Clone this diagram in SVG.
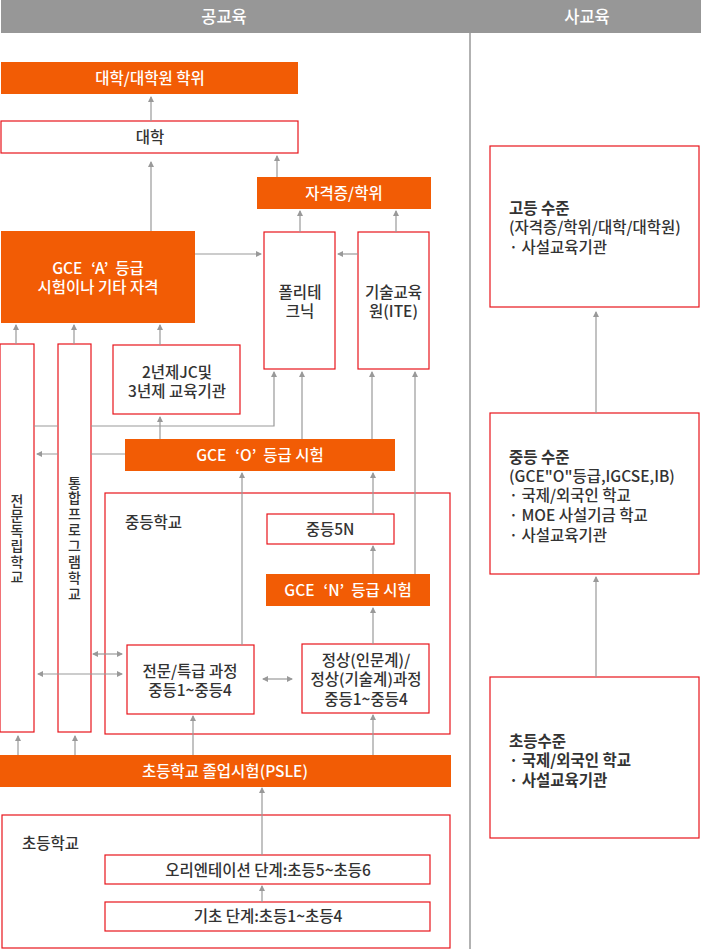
<svg xmlns="http://www.w3.org/2000/svg" width="721" height="949" viewBox="0 0 721 949">
<defs>
<style>
text{font-family:"Noto Sans CJK KR","Noto Sans",sans-serif;font-size:15.5px;font-weight:500;fill:#333;}
.w{fill:#fff;}
.c{text-anchor:middle;}
.b{font-weight:bold;}
.h{font-size:16.5px;}
.v{font-size:14px;text-anchor:middle;}
.or{fill:#f25c05;stroke:none;}
.bx{fill:#fff;stroke:#e8141b;stroke-width:1.2;}
.ct{fill:none;stroke:#e8141b;stroke-width:1.2;}
.ln{fill:none;stroke:#999;stroke-width:1.2;marker-end:url(#ah);}
.dl{fill:none;stroke:#999;stroke-width:1.2;marker-end:url(#ah);marker-start:url(#as);}
</style>
<marker id="ah" markerUnits="userSpaceOnUse" markerWidth="7" markerHeight="6" refX="5" refY="3" orient="auto"><path d="M0,0 L6,3 L0,6 z" fill="#999"/></marker>
<marker id="as" markerUnits="userSpaceOnUse" markerWidth="7" markerHeight="6" refX="1" refY="3" orient="auto"><path d="M6,0 L0,3 L6,6 z" fill="#999"/></marker>
</defs>
<rect x="0" width="721" height="949" fill="#fff"/>
<g id="header">
<rect x="1" y="0" width="700" height="33" fill="#979797"/>
<text class="w c h" x="224" y="22.5">공교육</text>
<text class="w c h" x="587" y="22.5">사교육</text>
<line x1="470" y1="33" x2="470" y2="949" stroke="#999" stroke-width="1.5"/>
</g>
<g id="secondary-school">
<rect class="ct" x="105" y="493" width="345" height="241"/>
<text x="125" y="528">중등학교</text>
</g>
<g id="primary-school">
<rect class="ct" x="2" y="815" width="448" height="133"/>
<text x="22" y="849">초등학교</text>
</g>
<g id="degree"><rect class="or" x="1" y="62" width="297" height="32"/><text class="w c" x="150" y="83.5">대학/대학원 학위</text></g>
<g id="university"><rect class="bx" x="1" y="121" width="297" height="32"/><text class="c" x="150" y="142.5">대학</text></g>
<g id="cert"><rect class="or" x="257" y="177" width="174" height="32"/><text class="w c" x="344" y="198.5">자격증/학위</text></g>
<g id="gce-a"><rect class="or" x="1" y="231" width="194" height="92"/><text class="w c" x="98" y="274">GCE<tspan dx="9">‘</tspan>A’<tspan dx="7">등급</tspan></text><text class="w c" x="98" y="293">시험이나 기타 자격</text></g>
<g id="polytechnic"><rect class="bx" x="264" y="232" width="71" height="137"/><text class="c" x="300" y="298">폴리테</text><text class="c" x="300" y="317">크닉</text></g>
<g id="ite"><rect class="bx" x="358" y="232" width="71" height="137"/><text class="c" x="393.5" y="298">기술교육</text><text class="c" x="393.5" y="317">원(ITE)</text></g>
<g id="specialised"><rect class="bx" x="0" y="344" width="34" height="388"/><text class="v" x="17"><tspan x="17" y="505.5">전</tspan><tspan x="17" y="520.8">문</tspan><tspan x="17" y="536.1">독</tspan><tspan x="17" y="551.4">립</tspan><tspan x="17" y="566.7">학</tspan><tspan x="17" y="582">교</tspan></text></g>
<g id="integrated"><rect class="bx" x="58" y="344" width="33" height="388"/><text class="v" x="74.5"><tspan x="74.5" y="487.5">통</tspan><tspan x="74.5" y="503.4">합</tspan><tspan x="74.5" y="519.3">프</tspan><tspan x="74.5" y="535.2">로</tspan><tspan x="74.5" y="551.1">그</tspan><tspan x="74.5" y="567">램</tspan><tspan x="74.5" y="582.9">학</tspan><tspan x="74.5" y="598.8">교</tspan></text></g>
<g id="jc"><rect class="bx" x="113" y="345" width="127" height="69"/><text class="c" x="177" y="377.5">2년제JC및</text><text class="c" x="177" y="396.5">3년제 교육기관</text></g>
<g id="gce-o"><rect class="or" x="125" y="439" width="270" height="32"/><text class="w c" x="260" y="461">GCE<tspan dx="9">‘</tspan>O’<tspan dx="7">등급 시험</tspan></text></g>
<g id="sec5n"><rect class="bx" x="267" y="514" width="127" height="30"/><text class="c" x="330" y="534.5">중등5N</text></g>
<g id="gce-n"><rect class="or" x="266" y="574" width="164" height="32"/><text class="w c" x="348" y="596">GCE<tspan dx="9">‘</tspan>N’<tspan dx="7">등급 시험</tspan></text></g>
<g id="express"><rect class="bx" x="127" y="645" width="127" height="69"/><text class="c" x="190" y="677">전문/특급 과정</text><text class="c" x="190" y="696">중등1~중등4</text></g>
<g id="normal"><rect class="bx" x="302" y="644" width="127" height="69"/><text class="c" x="366" y="666">정상(인문계)/</text><text class="c" x="366" y="685">정상(기술계)과정</text><text class="c" x="366" y="705">중등1~중등4</text></g>
<g id="psle"><rect class="or" x="0" y="755" width="451" height="32"/><text class="w c" x="225" y="776.5">초등학교 졸업시험(PSLE)</text></g>
<g id="orientation"><rect class="bx" x="105" y="855" width="325" height="29"/><text class="c" x="268" y="875.5">오리엔테이션 단계:초등5~초등6</text></g>
<g id="foundation"><rect class="bx" x="105" y="902" width="325" height="29"/><text class="c" x="268" y="922">기초 단계:초등1~초등4</text></g>
<g id="private-high"><rect class="bx" x="490" y="146" width="209" height="161"/><text class="b" x="509" y="213.5">고등 수준</text><text x="509" y="233">(자격증/학위/대학/대학원)</text><text x="509" y="252.5">· 사설교육기관</text></g>
<g id="private-mid"><rect class="bx" x="490" y="413" width="209" height="161"/><text class="b" x="509" y="462.5">중등 수준</text><text x="509" y="482">(GCE"O"등급,IGCSE,IB)</text><text x="509" y="501">· 국제/외국인 학교</text><text x="509" y="521">· MOE 사설기금 학교</text><text x="509" y="541">· 사설교육기관</text></g>
<g id="private-primary"><rect class="bx" x="490" y="677" width="209" height="161"/><text class="b" x="509" y="746.5">초등수준</text><text class="b" x="509" y="766">· 국제/외국인 학교</text><text class="b" x="509" y="785.5">· 사설교육기관</text></g>
<g id="connectors">
<path class="ln" d="M151,121 V97"/>
<path class="ln" d="M151,231 V162"/>
<path class="ln" d="M277,177 V156"/>
<path class="ln" d="M300,232 V211"/>
<path class="ln" d="M396,232 V211"/>
<path class="ln" d="M195,254 H261"/>
<path class="ln" d="M358,254 H338"/>
<path class="ln" d="M16,344 V325"/>
<path class="ln" d="M74,344 V325"/>
<path class="ln" d="M160,345 V325"/>
<path class="ln" d="M160,439 V417"/>
<path class="ln" d="M34,426 H58 M91,426 H274 V372"/>
<path class="ln" d="M302,439 V372"/>
<path class="ln" d="M372,439 V372"/>
<path class="ln" d="M415,574 V372"/>
<path class="ln" d="M125,454 H91 M58,454 H37"/>
<path class="ln" d="M373,514 V473"/>
<path class="ln" d="M242,645 V473"/>
<path class="ln" d="M373,574 V546"/>
<path class="ln" d="M373,644 V608"/>
<path class="dl" d="M263,679 H292"/>
<path class="dl" d="M93,654 H122"/>
<path class="dl" d="M38,674 H122"/>
<path class="ln" d="M18,755 V736"/>
<path class="ln" d="M75,755 V736"/>
<path class="ln" d="M193,755 V716"/>
<path class="ln" d="M373,755 V715"/>
<path class="ln" d="M262,855 V788"/>
<path class="ln" d="M262,902 V886"/>
<path class="ln" d="M596,413 V312"/>
<path class="ln" d="M596,677 V577"/>
</g>
</svg>
